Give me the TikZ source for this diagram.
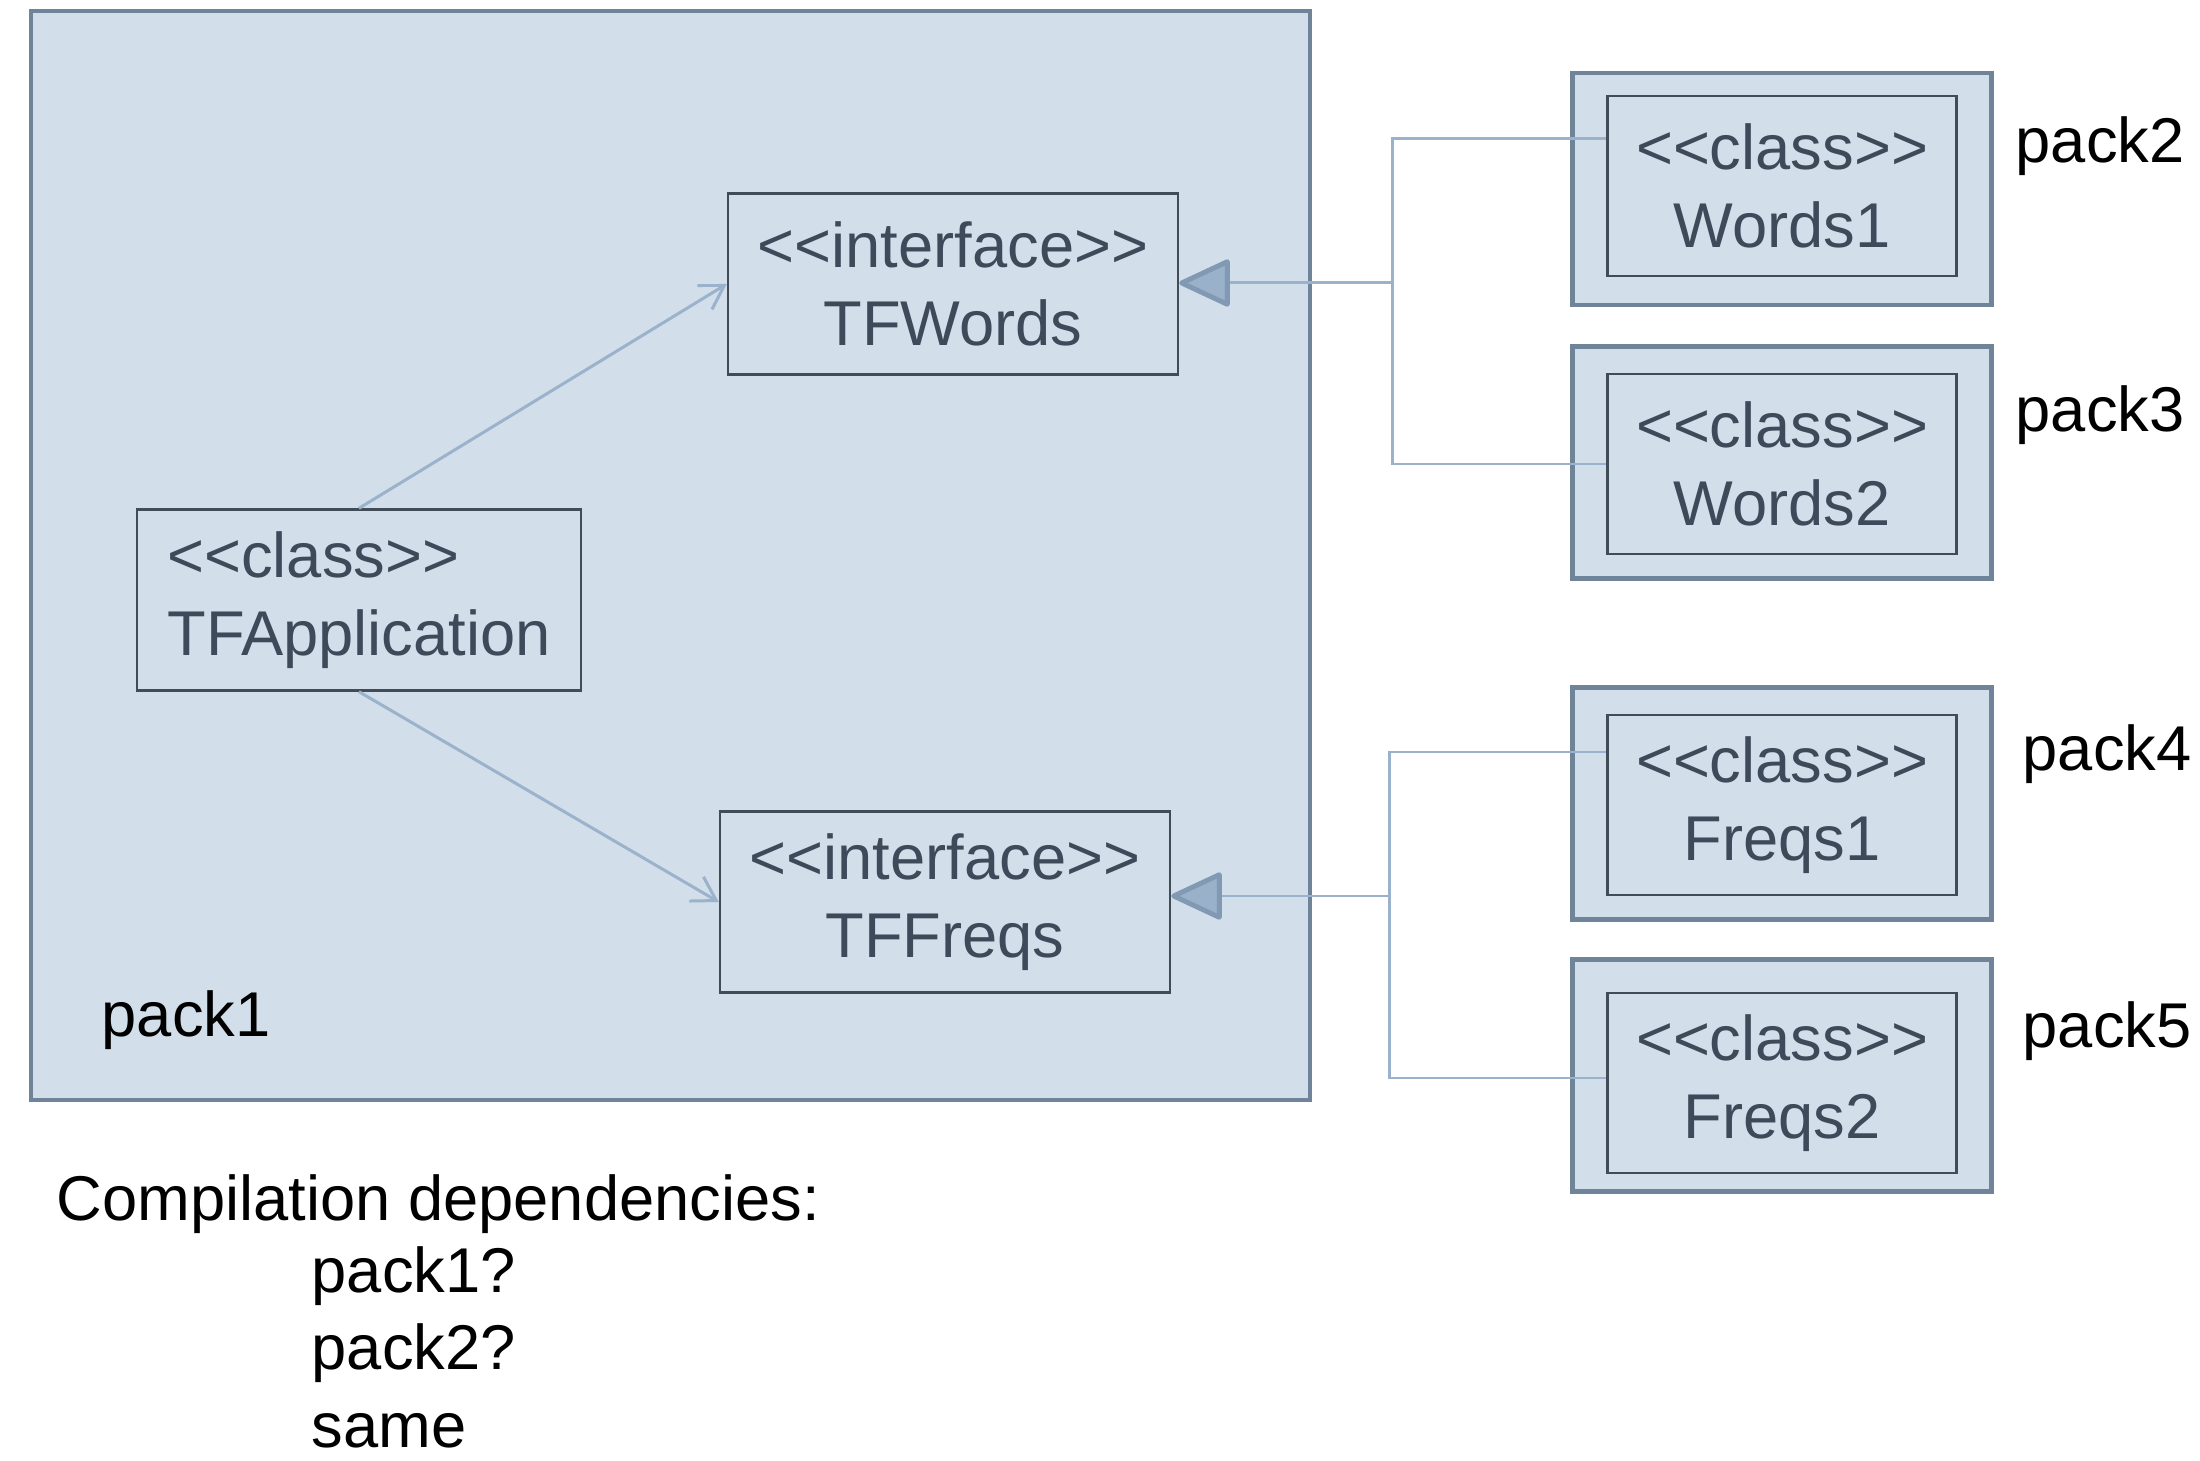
\documentclass[tikz,border=0pt]{standalone}
\usepackage{fontspec}
\setmainfont{Liberation Sans}
\usetikzlibrary{arrows.meta}
\definecolor{pkgfill}{HTML}{D2DEEA}
\definecolor{pkgline}{HTML}{6F8499}
\definecolor{clsline}{HTML}{414C59}
\definecolor{clstext}{HTML}{3E4A59}
\definecolor{depline}{HTML}{9AB2CC}
\definecolor{tipfill}{HTML}{9AB1CA}
\definecolor{tipline}{HTML}{8199B3}
\newcommand{\stereo}[1]{<\kern0pt<#1>\kern0pt>}
\tikzset{
  pkg/.style={draw=pkgline, fill=pkgfill, line width=1.4pt, minimum width=4.19cm, minimum height=2.32cm},
  cls/.style={draw=clsline, fill=pkgfill, line width=0.7pt, text=clstext, align=center, inner sep=0pt},
  dep/.style={draw=depline, line width=0.85pt},
  realize/.style={dep, -{Triangle[round, length=5.4mm, width=4.9mm, line width=1.4pt, color=tipline, fill=tipfill]}},
  uses/.style={dep, -{Straight Barb[length=2.3mm, width=2.8mm]}},
  lbl/.style={anchor=base west, text=black, inner sep=0pt},
}
\begin{document}
\begin{tikzpicture}[font=\fontsize{18}{22}\selectfont]
\useasboundingbox (0,0) rectangle (22,14.6);
\draw[pkgline, fill=pkgfill, line width=1.4pt] (0.31,3.60) rectangle (13.10,14.49); % pack1
\node[cls, minimum width=4.5cm, minimum height=1.81cm] (tfw) at (9.53,11.76) {\stereo{interface}\\TFWords};
\node[cls, minimum width=4.5cm, minimum height=1.81cm] (tff) at (9.45,5.58) {\stereo{interface}\\TFFreqs};
\node[cls, align=left, minimum width=4.44cm, minimum height=1.81cm] (tfa) at (3.59,8.60) {\stereo{class}\\TFApplication};
\node[lbl] (p1) at (1.01,4.24) {pack1};
\foreach \nm/\y/\iy/\txt in {w1/12.71/12.74/Words1, w2/9.975/9.96/Words2, f1/6.565/6.55/Freqs1, f2/3.845/3.77/Freqs2}{
  \node[pkg] (p\nm) at (17.82,\y) {};
  \node[cls, minimum width=3.49cm, minimum height=1.80cm] (\nm) at (17.82,\iy) {\stereo{class}\\\txt};
}
\node[anchor=west, inner sep=0pt] (p2) at (20.15,13.14) {pack2};
\node[anchor=west, inner sep=0pt] (p3) at (20.15,10.45) {pack3};
\node[anchor=west, inner sep=0pt] (p4) at (20.22,7.06) {pack4};
\node[anchor=west, inner sep=0pt] (p5) at (20.22,4.29) {pack5};
% implementations
\coordinate (jw) at (13.92,11.77);
\coordinate (jf) at (13.89,5.64);
\draw[dep] ([yshift=4.7mm]w1.west) -| (jw);
\draw[dep] (w2.west) -| (jw);
\draw[realize] (jw) -- (jw -| tfw.east);
\draw[dep] ([yshift=5.3mm]f1.west) -| (jf);
\draw[dep] ([yshift=0.5mm]f2.west) -| (jf);
\draw[realize] (jf) -- (jf -| tff.east);
% uses
\draw[uses] (tfa.north) -- (tfw.west);
\draw[uses] (tfa.south) -- (tff.west);
\node[lbl] (cdep) at (0.56,2.40) {Compilation dependencies:};
\node[lbl, align=left] (cdq) at (3.11,0.13) {pack1?\\pack2?\\same};
\end{tikzpicture}
\end{document}
